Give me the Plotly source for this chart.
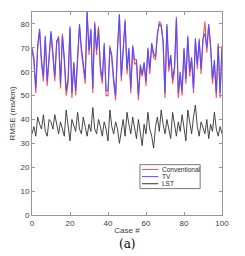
import plotly.graph_objects as go

tv = [70, 66, 53, 71, 78, 65, 58, 75, 56, 68, 77, 68, 58, 73, 74, 55, 75, 66, 52, 57,
      79, 51, 64, 52, 66, 80, 70, 62, 57, 85, 69, 78, 53, 80, 69, 78, 62, 57, 72, 52,
      52, 70, 67, 57, 50, 70, 84, 58, 72, 81, 61, 70, 53, 71, 65, 65, 50, 63, 59, 64,
      56, 70, 61, 72, 68, 66, 76, 80, 79, 73, 51, 80, 62, 67, 57, 62, 82, 51, 60, 52,
      70, 57, 75, 60, 66, 53, 74, 63, 73, 61, 74, 76, 70, 80, 71, 57, 65, 51, 71, 51, 70]
conventional = [69, 64, 51, 70, 77, 63, 56, 74, 54, 67, 76, 66, 56, 72, 75, 53, 76, 64, 50, 55,
                78, 49, 63, 50, 65, 79, 68, 60, 55, 86, 67, 77, 51, 81, 67, 79, 60, 55, 71, 50,
                50, 71, 65, 55, 48, 69, 84, 56, 71, 82, 59, 69, 51, 70, 63, 64, 48, 61, 58, 63,
                54, 69, 59, 71, 66, 65, 75, 81, 80, 72, 49, 79, 60, 66, 55, 60, 83, 49, 58, 50,
                69, 55, 74, 58, 65, 51, 73, 61, 74, 59, 73, 81, 68, 79, 70, 55, 63, 49, 72, 49, 71]
lst = [34, 37, 33, 41, 38, 36, 42, 35, 33, 40, 39, 36, 42, 38, 34, 39, 36, 33, 44, 38,
       31, 40, 37, 35, 43, 36, 34, 41, 37, 33, 38, 35, 45, 36, 34, 40, 37, 33, 39, 36,
       31, 44, 37, 34, 39, 36, 30, 35, 40, 33, 43, 38, 34, 41, 37, 32, 40, 35, 29, 38,
       34, 43, 36, 33, 28, 37, 41, 35, 44, 38, 34, 40, 36, 32, 43, 37, 33, 39, 35, 42,
       36, 31, 44, 38, 34, 41, 46, 37, 33, 39, 36, 34, 40, 32, 38, 35, 43, 36, 33, 37, 34]
cases = list(range(len(tv)))

series_names = ["Conventional", "TV", "LST"]
x_ticks = [0, 20, 40, 60, 80, 100]
y_ticks = [0, 10, 20, 30, 40, 50, 60, 70, 80]

colors = ["rgb(255,80,80)", "rgb(80,80,255)", "rgb(50,50,50)"]
widths = [1.1, 1.1, 0.9]

fig = go.Figure()
for name, vals, c, w in zip(series_names, [conventional, tv, lst], colors, widths):
    fig.add_trace(go.Scatter(x=cases, y=vals, mode="lines", name=name,
                             line=dict(color=c, width=w), showlegend=False, hoverinfo="skip"))

font_main = dict(family="Liberation Sans, Arial", size=8, color="rgb(60,60,60)")
axis_common = dict(showline=True, mirror="ticks", linecolor="rgb(150,150,150)", linewidth=1,
                   ticks="inside", ticklen=3, tickcolor="rgb(150,150,150)",
                   showgrid=False, zeroline=False, tickfont=font_main)

# custom compact legend (paper coordinates)
shapes = [dict(type="rect", xref="paper", yref="paper", x0=0.568, x1=0.885, y0=0.130, y1=0.248,
               line=dict(color="rgb(120,120,120)", width=1), fillcolor="white", layer="above")]
annotations = []
rows = [0.224, 0.189, 0.154]
for name, c, ry in zip(series_names, colors, rows):
    shapes.append(dict(type="line", xref="paper", yref="paper", x0=0.579, x1=0.665, y0=ry, y1=ry,
                       line=dict(color=c, width=1), layer="above"))
    annotations.append(dict(text=name, x=0.672, y=ry, xref="paper", yref="paper",
                            xanchor="left", yanchor="middle", showarrow=False,
                            font=dict(family="Liberation Sans, Arial", size=6.5, color="rgb(40,40,40)")))

annotations.append(dict(text="(a)", x=0.5, y=-0.1, xref="paper", yref="paper",
                        xanchor="center", yanchor="top", showarrow=False,
                        font=dict(family="DejaVu Serif, Liberation Serif", size=12, color="black")))

fig.update_layout(
    width=245, height=256,
    margin=dict(l=32, r=23, t=12, b=41),
    paper_bgcolor="white", plot_bgcolor="white",
    xaxis=dict(range=[0, 100], tickvals=x_ticks, **axis_common,
               title=dict(text="Case #", font=font_main, standoff=0)),
    yaxis=dict(range=[0, 85], tickvals=y_ticks, **axis_common,
               title=dict(text="RMSE (ms/km)", font=font_main, standoff=3)),
    showlegend=False,
    shapes=shapes,
    annotations=annotations,
)

fig.write_html("out.html", config={"displayModeBar": False},
               post_script="document.body.style.margin='0';")
